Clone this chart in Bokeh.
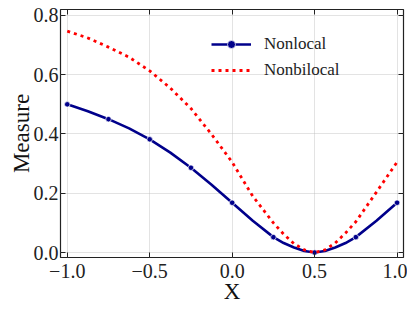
from bokeh.plotting import figure
from bokeh.models import LinearAxis, Range1d, FixedTicker, Legend, LegendItem
from bokeh.embed import file_html
from bokeh.resources import INLINE

# data
x_vals = [-1, -0.875, -0.75, -0.625, -0.5, -0.375, -0.25, -0.125, 0, 0.125, 0.25,
          0.3125, 0.375, 0.4375, 0.5, 0.5625, 0.625, 0.6875, 0.75, 0.875, 1]
nonlocal_vals = [0.5, 0.477, 0.45, 0.419, 0.382, 0.337, 0.286, 0.229, 0.168, 0.107, 0.052,
                 0.032, 0.017, 0.005, 0.0, 0.005, 0.017, 0.032, 0.052, 0.107, 0.168]
nonbilocal_vals = [0.747, 0.724, 0.693, 0.659, 0.613, 0.555, 0.486, 0.399, 0.305, 0.19, 0.1,
                   0.062, 0.03, 0.009, 0.0, 0.009, 0.032, 0.066, 0.104, 0.204, 0.305]
marker_x = [-1, -0.75, -0.5, -0.25, 0, 0.25, 0.5, 0.75, 1]
marker_y = [nonlocal_vals[x_vals.index(v)] for v in marker_x]

x_ticks = [-1.0, -0.5, 0.0, 0.5, 1.0]
x_tick_labels = ["\u22121.0", "\u22120.5", "0.0", "0.5", "1.0"]
y_ticks = [0.0, 0.2, 0.4, 0.6, 0.8]
y_tick_labels = ["0.0", "0.2", "0.4", "0.6", "0.8"]

FONT = "Liberation Serif"
BLUE = "#00008B"
RED = "#FF0000"

p = figure(width=407, height=306, output_backend="svg", toolbar_location=None,
           x_range=Range1d(-1.041, 1.039), y_range=Range1d(-0.0167, 0.82),
           min_border_left=60, min_border_right=4, min_border_top=9, min_border_bottom=44)
p.background_fill_color = "white"
p.border_fill_color = "white"
p.outline_line_color = "#222222"
p.outline_line_width = 1.2

def style_axis(ax, ticks, labels, show_labels, standoff=3):
    ax.ticker = FixedTicker(ticks=ticks)
    ax.major_tick_in = 5
    ax.major_tick_out = 0
    ax.minor_tick_in = 0
    ax.minor_tick_out = 0
    ax.major_tick_line_color = "#222222"
    ax.major_tick_line_width = 1
    ax.axis_line_color = None
    ax.major_label_text_font = FONT
    ax.major_label_text_color = "#222222"
    ax.major_label_text_font_size = "20px"
    if show_labels:
        ax.major_label_overrides = {t: l for t, l in zip(ticks, labels)}
        ax.major_label_standoff = standoff
    else:
        ax.major_label_overrides = {t: "" for t in ticks}
        ax.major_label_standoff = 0

style_axis(p.xaxis[0], x_ticks, x_tick_labels, True, standoff=6)
style_axis(p.yaxis[0], y_ticks, y_tick_labels, True, standoff=2)
p.xaxis[0].axis_label = "X"
p.yaxis[0].axis_label = "Measure"
for ax in (p.xaxis[0], p.yaxis[0]):
    ax.axis_label_text_font = FONT
    ax.axis_label_text_font_size = "23px"
    ax.axis_label_text_font_style = "normal"
    ax.axis_label_text_color = "#111111"
p.xaxis[0].axis_label_standoff = -2
p.yaxis[0].axis_label_standoff = -3

top = LinearAxis()
style_axis(top, x_ticks, x_tick_labels, False)
p.add_layout(top, "above")
right = LinearAxis()
style_axis(right, y_ticks, y_tick_labels, False)
p.add_layout(right, "right")

p.xgrid.ticker = FixedTicker(ticks=x_ticks)
p.ygrid.ticker = FixedTicker(ticks=y_ticks)
for g in (p.xgrid[0], p.ygrid[0]):
    g.grid_line_color = "#b8b8b8"
    g.grid_line_dash = "1 1"
    g.grid_line_width = 0.8

r_nl = p.line(x_vals, nonlocal_vals, line_color=BLUE, line_width=2.6)
r_nlm = p.scatter(marker_x, marker_y, size=5.5, fill_color=BLUE, line_color="white",
                  line_width=0.7)
r_nb = p.line(x_vals, nonbilocal_vals, line_color=RED, line_width=2.8, line_dash="3 4")

legend = Legend(items=[LegendItem(label="Nonlocal", renderers=[r_nl, r_nlm]),
                       LegendItem(label="Nonbilocal", renderers=[r_nb])],
                location=(151, 177))
legend.border_line_color = None
legend.background_fill_alpha = 0
legend.padding = 0
legend.margin = 0
legend.spacing = 6
legend.glyph_width = 40
legend.glyph_height = 20
legend.label_height = 20
legend.label_standoff = 13
legend.label_text_font = FONT
legend.label_text_font_size = "17px"
legend.label_text_color = "#222222"
p.add_layout(legend)

open("out.html", "w").write(file_html(p, INLINE))
